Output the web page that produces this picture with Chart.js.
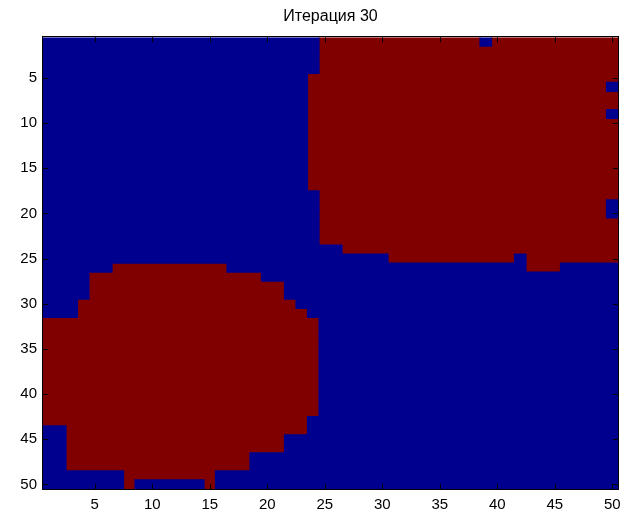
<!DOCTYPE html>
<html>
<head>
<meta charset="utf-8">
<script src="https://cdn.jsdelivr.net/npm/chart.js@4/dist/chart.umd.min.js"></script>
<style>
  body { margin: 0; background: #fff; }
  canvas { display: block; }
</style>
</head>
<body>
<canvas id="chart" width="621" height="512"></canvas>
<script>
const titleText = "Итерация 30";
const nCols = 50;
const xTicks = [5, 10, 15, 20, 25, 30, 35, 40, 45, 50];
const yTicks = [5, 10, 15, 20, 25, 30, 35, 40, 45, 50];
const blueColor = "#00008f";
const redColor = "#800000";

// red cells of each row (row 1 at top), as [firstCol, lastCol]; the rest is blue
const redSpans = [
    [[25, 38], [40, 50]],   // 1
    [[25, 50]],
    [[25, 50]],
    [[25, 50]],
    [[24, 50]],             // 5
    [[24, 49]],
    [[24, 50]],
    [[24, 50]],
    [[24, 49]],
    [[24, 50]],             // 10
    [[24, 50]],
    [[24, 50]],
    [[24, 50]],
    [[24, 50]],
    [[24, 50]],             // 15
    [[24, 50]],
    [[24, 50]],
    [[25, 50]],
    [[25, 49]],
    [[25, 49]],             // 20
    [[25, 50]],
    [[25, 50]],
    [[25, 50]],
    [[27, 50]],
    [[31, 41], [43, 50]],   // 25
    [[7, 16], [43, 45]],
    [[5, 19]],
    [[5, 21]],
    [[5, 21]],
    [[4, 22]],              // 30
    [[4, 23]],
    [[1, 24]],
    [[1, 24]],
    [[1, 24]],
    [[1, 24]],              // 35
    [[1, 24]],
    [[1, 24]],
    [[1, 24]],
    [[1, 24]],
    [[1, 24]],              // 40
    [[1, 24]],
    [[1, 24]],
    [[1, 23]],
    [[3, 23]],
    [[3, 21]],              // 45
    [[3, 21]],
    [[3, 18]],
    [[3, 18]],
    [[8, 15]],
    [[8, 8], [15, 15]]      // 50
];

// turn the spans into floating bars, one per run of equal cells
const blueBars = [];
const redBars = [];
redSpans.forEach((spans, i) => {
    const row = i + 1;
    let col = 1;
    spans.forEach(([a, b]) => {
        if (a > col) blueBars.push({ x: [col - 0.5, a - 0.5], y: row });
        redBars.push({ x: [a - 0.5, b + 0.5], y: row });
        col = b + 1;
    });
    if (col <= nCols) blueBars.push({ x: [col - 0.5, nCols + 0.5], y: row });
});

// matlab style box with inward ticks on all four sides
const boxPlugin = {
    id: "box",
    beforeDatasetsDraw(chart) {
        const { ctx, chartArea: a } = chart;
        ctx.save();
        ctx.beginPath();
        ctx.rect(a.left, a.top, a.right - a.left, a.bottom - a.top);
        ctx.clip();
    },
    afterDatasetsDraw(chart) {
        chart.ctx.restore();
    },
    afterDraw(chart) {
        const { ctx, chartArea: a, scales: { x, y } } = chart;
        const len = 5;
        ctx.save();
        ctx.strokeStyle = "#000";
        ctx.lineWidth = 1;
        ctx.beginPath();
        xTicks.forEach(v => {
            const px = Math.round(x.getPixelForValue(v)) + 0.5;
            ctx.moveTo(px, a.bottom); ctx.lineTo(px, a.bottom - len);
            ctx.moveTo(px, a.top); ctx.lineTo(px, a.top + len);
        });
        yTicks.forEach(v => {
            const py = Math.round(y.getPixelForValue(v)) + 0.5;
            ctx.moveTo(a.left, py); ctx.lineTo(a.left + len, py);
            ctx.moveTo(a.right, py); ctx.lineTo(a.right - len, py);
        });
        ctx.stroke();
        ctx.strokeRect(Math.round(a.left) - 0.5, Math.round(a.top) - 0.5,
            Math.round(a.right) - Math.round(a.left) + 1, Math.round(a.bottom) - Math.round(a.top) + 1);
        ctx.restore();
    }
};

Chart.defaults.font.family = "'Liberation Sans', Arial, sans-serif";
Chart.defaults.color = "#000";

const ctx = document.getElementById("chart").getContext("2d");
new Chart(ctx, {
    type: "bar",
    data: {
        datasets: [
            { label: "0", data: blueBars, backgroundColor: blueColor, grouped: false, inflateAmount: 0.6 },
            { label: "1", data: redBars, backgroundColor: redColor, grouped: false, inflateAmount: 0.6 }
        ]
    },
    options: {
        indexAxis: "y",
        responsive: false,
        animation: false,
        barPercentage: 1,
        categoryPercentage: 1,
        layout: { padding: { left: 0, right: 3, top: 0, bottom: 0 } },
        plugins: {
            legend: { display: false },
            tooltip: { enabled: false },
            title: {
                display: true,
                fullSize: false,
                text: titleText,
                color: "#000",
                font: { size: 16, weight: "normal" },
                padding: { top: 7, bottom: 11 }
            }
        },
        scales: {
            x: {
                type: "linear",
                min: 0.5,
                max: 50.5,
                offset: false,
                grid: { display: false, drawTicks: false },
                border: { display: false },
                ticks: { font: { size: 15 }, padding: 7, maxRotation: 0, autoSkip: false },
                afterBuildTicks: s => { s.ticks = xTicks.map(v => ({ value: v })); },
                afterFit: s => { s.height = 23; s.paddingLeft = 0; s.paddingRight = 0; }
            },
            y: {
                type: "linear",
                reverse: true,
                min: 0.5,
                max: 50.5,
                offset: false,
                grid: { display: false, drawTicks: false },
                border: { display: false },
                ticks: { font: { size: 15 }, padding: 6, autoSkip: false },
                afterBuildTicks: s => { s.ticks = yTicks.map(v => ({ value: v })); },
                afterFit: s => { s.width = 43; s.paddingTop = 0; s.paddingBottom = 0; }
            }
        }
    },
    plugins: [boxPlugin]
});
</script>
</body>
</html>
